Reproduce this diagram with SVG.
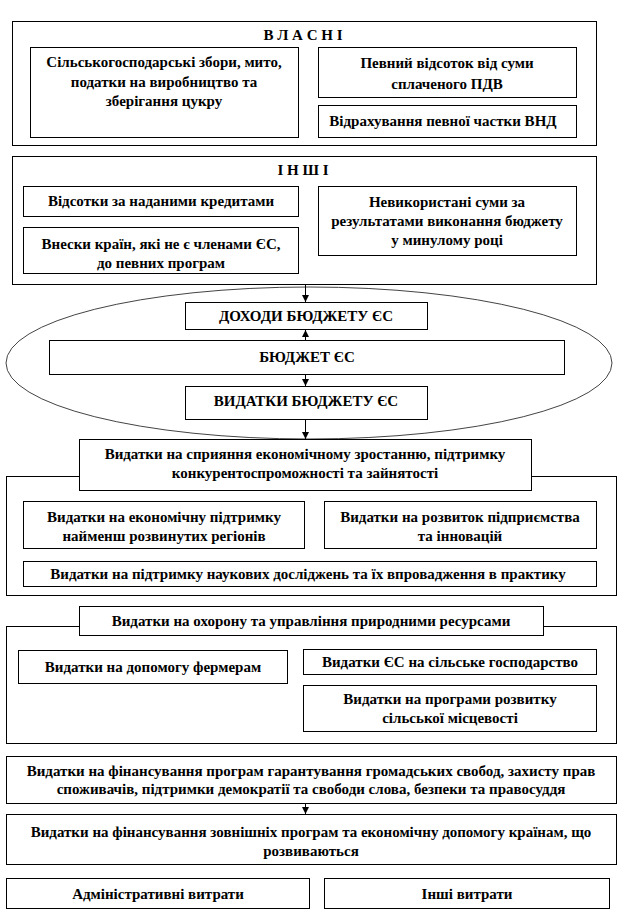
<svg xmlns="http://www.w3.org/2000/svg" width="624" height="913" viewBox="0 0 624 913">
<defs>
<style>
rect{fill:#fff;stroke:#000;stroke-width:1}
text{font-family:"Liberation Serif","Times New Roman",serif;font-weight:bold;font-size:15px;fill:#000;text-anchor:middle}
.ell{fill:#fff;stroke:#444;stroke-width:1}
.conn line{stroke:#000;stroke-width:1}
</style>
<marker id="ah" viewBox="0 0 10 10" refX="10" refY="5" markerWidth="7" markerHeight="7" orient="auto" markerUnits="userSpaceOnUse">
<path d="M0,0 L10,5 L0,10 z" fill="#000"/>
</marker>
</defs>
<rect x="0" y="0" width="624" height="913" style="stroke:none"/>

<g id="vlasni">
<rect x="12.5" y="21.5" width="584" height="124"/>
<text x="303" y="40">В Л А С Н І</text>
</g>
<g id="silsko">
<rect x="30.5" y="47.5" width="268" height="90"/>
<text x="164" y="67">Сільськогосподарські  збори, мито,</text>
<text x="164" y="87">податки на виробництво та</text>
<text x="164" y="106">зберігання  цукру</text>
</g>
<g id="pdv">
<rect x="318.5" y="47.5" width="258" height="50"/>
<text x="447" y="68">Певний відсоток від суми</text>
<text x="447" y="89">сплаченого ПДВ</text>
</g>
<g id="vnd">
<rect x="318.5" y="105.5" width="258" height="32"/>
<text x="443" y="126">Відрахування  певної частки ВНД</text>
</g>

<g id="inshi">
<rect x="12.5" y="156.5" width="584" height="128"/>
<text x="303" y="175">І Н Ш І</text>
</g>
<g id="vidsotky">
<rect x="23.5" y="186.5" width="275" height="30"/>
<text x="161" y="206">Відсотки  за наданими кредитами</text>
</g>
<g id="vnesky">
<rect x="23.5" y="227.5" width="275" height="46"/>
<text x="161" y="249">Внески країн, які не є членами ЄС,</text>
<text x="161" y="268">до  певних програм</text>
</g>
<g id="nevykor">
<rect x="318.5" y="186.5" width="258" height="69"/>
<text x="447" y="207">Невикористані суми за</text>
<text x="447" y="226">результатами  виконання бюджету</text>
<text x="447" y="245">у минулому році</text>
</g>

<ellipse class="ell" cx="309" cy="363" rx="303" ry="76"/>

<g id="dohody">
<rect x="185.5" y="302.5" width="242" height="27"/>
<text x="306" y="321">ДОХОДИ  БЮДЖЕТУ ЄС</text>
</g>
<g id="budget">
<rect x="49.5" y="340.5" width="515" height="34"/>
<text x="307" y="362">БЮДЖЕТ ЄС</text>
</g>
<g id="vydatky">
<rect x="185.5" y="386.5" width="242" height="33"/>
<text x="306" y="406">ВИДАТКИ БЮДЖЕТУ ЄС</text>
</g>

<g id="sec2">
<rect x="6.5" y="476.5" width="610" height="119"/>
</g>
<g id="spryyannya">
<rect x="79.5" y="439.5" width="452" height="51"/>
<text x="305" y="459">Видатки на сприяння економічному зростанню, підтримку</text>
<text x="305" y="478">конкурентоспроможності  та зайнятості</text>
</g>
<g id="ekonom">
<rect x="23.5" y="501.5" width="281" height="47"/>
<text x="164" y="522">Видатки на економічну підтримку</text>
<text x="164" y="541">найменш розвинутих регіонів</text>
</g>
<g id="rozvytok">
<rect x="324.5" y="501.5" width="272" height="47"/>
<text x="460" y="522">Видатки на розвиток підприємства</text>
<text x="460" y="541">та інновацій</text>
</g>
<g id="nauka">
<rect x="23.5" y="561.5" width="573" height="25"/>
<text x="308" y="579">Видатки на підтримку наукових досліджень  та їх впровадження в практику</text>
</g>

<g id="sec3">
<rect x="6.5" y="626.5" width="610" height="117"/>
</g>
<g id="okhorona">
<rect x="79.5" y="606.5" width="464" height="29"/>
<text x="311" y="626">Видатки на охорону та управління природними ресурсами</text>
</g>
<g id="fermery">
<rect x="18.5" y="650.5" width="269" height="33"/>
<text x="153" y="672">Видатки на допомогу фермерам</text>
</g>
<g id="silske">
<rect x="303.5" y="649.5" width="293" height="25"/>
<text x="450" y="667">Видатки ЄС на сільське господарство</text>
</g>
<g id="mistsevist">
<rect x="303.5" y="685.5" width="293" height="46"/>
<text x="450" y="704">Видатки на програми розвитку</text>
<text x="450" y="723">сільської  місцевості</text>
</g>

<g id="svobody">
<rect x="6.5" y="756.5" width="610" height="47"/>
<text x="311" y="776">Видатки на фінансування  програм гарантування громадських  свобод, захисту  прав</text>
<text x="311" y="794">споживачів, підтримки демократії  та свободи слова, безпеки та правосуддя</text>
</g>
<g id="zovnishni">
<rect x="6.5" y="814.5" width="610" height="50"/>
<text x="311" y="837">Видатки на фінансування  зовнішніх  програм та економічну допомогу країнам, що</text>
<text x="311" y="856">розвиваються</text>
</g>
<g id="admin">
<rect x="6.5" y="878.5" width="303" height="30"/>
<text x="158" y="899">Адміністративні  витрати</text>
</g>
<g id="inshi-vytraty">
<rect x="324.5" y="878.5" width="285" height="30"/>
<text x="467" y="899">Інші витрати</text>
</g>

<g id="connectors" class="conn">
<line x1="305.5" y1="285" x2="305.5" y2="302" marker-end="url(#ah)"/>
<line x1="305.5" y1="340" x2="305.5" y2="330" marker-end="url(#ah)"/>
<line x1="305.5" y1="375" x2="305.5" y2="386" marker-end="url(#ah)"/>
<line x1="305.5" y1="420" x2="305.5" y2="439" marker-end="url(#ah)"/>
<line x1="305.5" y1="804" x2="305.5" y2="814" marker-end="url(#ah)"/>
</g>
</svg>
